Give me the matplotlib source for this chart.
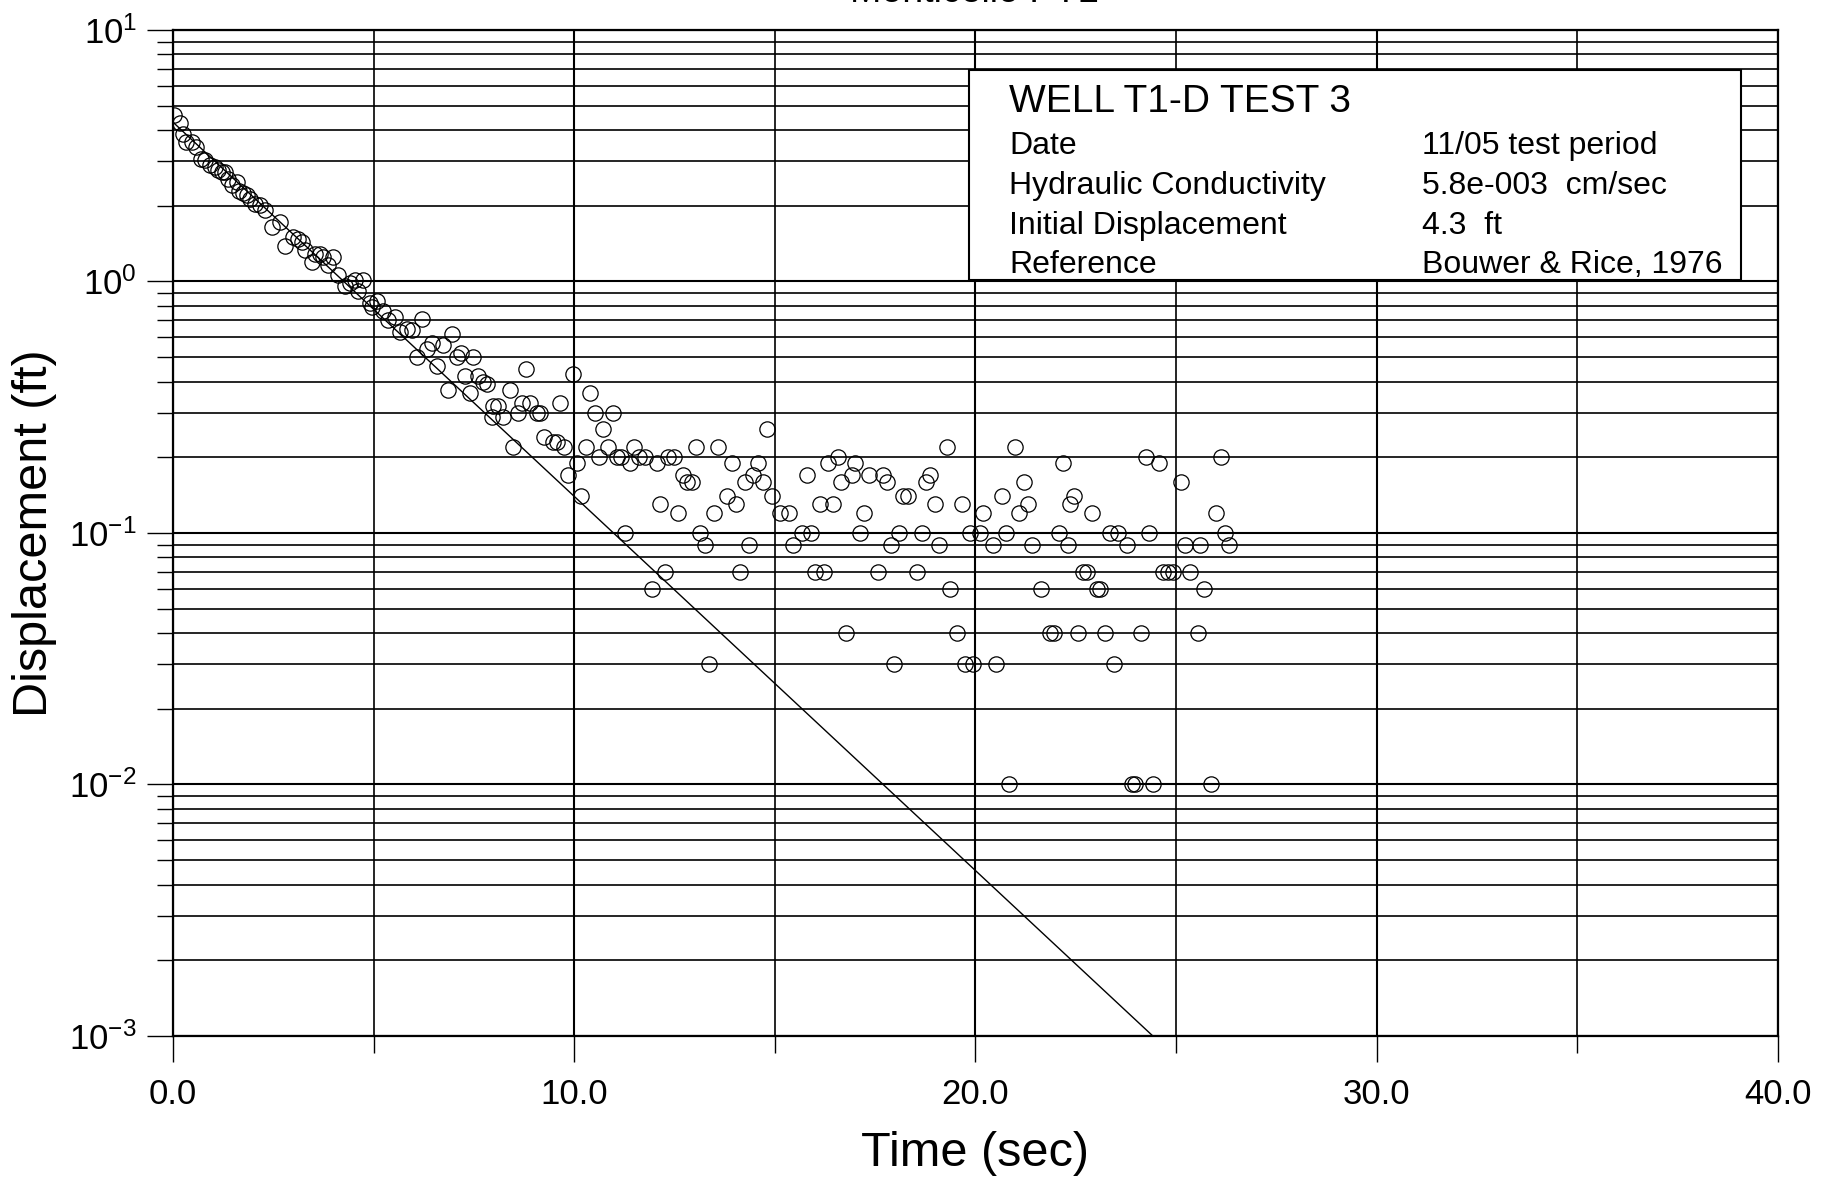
import matplotlib
matplotlib.use('Agg')
import matplotlib.pyplot as plt
from matplotlib.ticker import FixedLocator, NullFormatter, LogLocator
from matplotlib.patches import Rectangle

plt.rcParams['font.family'] = ['Liberation Sans', 'DejaVu Sans']

time_s = [0.03, 0.17, 0.26, 0.32, 0.47, 0.57, 0.71, 0.80, 0.92, 1.05,
          1.13, 1.21, 1.30, 1.38, 1.46, 1.59, 1.65, 1.75, 1.84, 1.92,
          2.04, 2.17, 2.29, 2.46, 2.67, 2.79, 3.00, 3.12, 3.21, 3.29,
          3.46, 3.54, 3.66, 3.75, 3.87, 4.00, 4.12, 4.29, 4.41, 4.54,
          4.62, 4.74, 4.91, 4.95, 5.08, 5.24, 5.36, 5.53, 5.66, 5.82,
          5.95, 6.07, 6.20, 6.32, 6.45, 6.57, 6.74, 6.86, 6.95, 7.07,
          7.19, 7.28, 7.40, 7.48, 7.61, 7.73, 7.82, 7.94, 7.98, 8.11,
          8.23, 8.40, 8.48, 8.61, 8.69, 8.81, 8.90, 9.06, 9.15, 9.25,
          9.48, 9.56, 9.64, 9.75, 9.85, 9.98, 10.08, 10.18, 10.29, 10.39,
          10.52, 10.62, 10.72, 10.85, 10.96, 11.06, 11.16, 11.26, 11.39, 11.50,
          11.62, 11.76, 11.93, 12.05, 12.14, 12.26, 12.34, 12.49, 12.59, 12.70,
          12.80, 12.93, 13.03, 13.13, 13.26, 13.37, 13.48, 13.59, 13.81, 13.92,
          14.03, 14.13, 14.26, 14.36, 14.46, 14.59, 14.70, 14.80, 14.92, 15.13,
          15.36, 15.46, 15.67, 15.79, 15.90, 16.00, 16.12, 16.22, 16.33, 16.46,
          16.58, 16.66, 16.77, 16.91, 17.00, 17.12, 17.23, 17.35, 17.56, 17.69,
          17.79, 17.89, 17.98, 18.10, 18.20, 18.33, 18.53, 18.66, 18.77, 18.87,
          18.99, 19.10, 19.28, 19.36, 19.53, 19.66, 19.74, 19.86, 19.95, 20.11,
          20.19, 20.43, 20.51, 20.65, 20.76, 20.84, 20.98, 21.09, 21.21, 21.32,
          21.42, 21.64, 21.86, 21.96, 22.09, 22.19, 22.31, 22.36, 22.45, 22.56,
          22.67, 22.77, 22.90, 23.02, 23.10, 23.23, 23.34, 23.44, 23.56, 23.78,
          23.89, 23.97, 24.12, 24.25, 24.33, 24.43, 24.58, 24.68, 24.81, 24.91,
          25.12, 25.22, 25.35, 25.55, 25.59, 25.70, 25.86, 25.99, 26.12, 26.22,
          26.33]
displacement_ft = [4.59, 4.25, 3.85, 3.59, 3.59, 3.43, 3.08, 3.03, 2.90, 2.85,
                   2.77, 2.73, 2.73, 2.56, 2.41, 2.49, 2.30, 2.24, 2.20, 2.13,
                   2.04, 2.01, 1.92, 1.65, 1.72, 1.39, 1.50, 1.48, 1.43, 1.34,
                   1.19, 1.29, 1.29, 1.25, 1.16, 1.25, 1.06, 0.96, 0.99, 1.01,
                   0.92, 1.01, 0.82, 0.79, 0.84, 0.76, 0.70, 0.72, 0.63, 0.65,
                   0.64, 0.50, 0.71, 0.54, 0.57, 0.46, 0.56, 0.37, 0.62, 0.50,
                   0.52, 0.42, 0.36, 0.50, 0.42, 0.40, 0.39, 0.29, 0.32, 0.32,
                   0.29, 0.37, 0.22, 0.30, 0.33, 0.45, 0.33, 0.30, 0.30, 0.24,
                   0.23, 0.23, 0.33, 0.22, 0.17, 0.43, 0.19, 0.14, 0.22, 0.36,
                   0.30, 0.20, 0.26, 0.22, 0.30, 0.20, 0.20, 0.10, 0.19, 0.22,
                   0.20, 0.20, 0.06, 0.19, 0.13, 0.07, 0.20, 0.20, 0.12, 0.17,
                   0.16, 0.16, 0.22, 0.10, 0.09, 0.03, 0.12, 0.22, 0.14, 0.19,
                   0.13, 0.07, 0.16, 0.09, 0.17, 0.19, 0.16, 0.26, 0.14, 0.12,
                   0.12, 0.09, 0.10, 0.17, 0.10, 0.07, 0.13, 0.07, 0.19, 0.13,
                   0.20, 0.16, 0.04, 0.17, 0.19, 0.10, 0.12, 0.17, 0.07, 0.17,
                   0.16, 0.09, 0.03, 0.10, 0.14, 0.14, 0.07, 0.10, 0.16, 0.17,
                   0.13, 0.09, 0.22, 0.06, 0.04, 0.13, 0.03, 0.10, 0.03, 0.10,
                   0.12, 0.09, 0.03, 0.14, 0.10, 0.01, 0.22, 0.12, 0.16, 0.13,
                   0.09, 0.06, 0.04, 0.04, 0.10, 0.19, 0.09, 0.13, 0.14, 0.04,
                   0.07, 0.07, 0.12, 0.06, 0.06, 0.04, 0.10, 0.03, 0.10, 0.09,
                   0.01, 0.01, 0.04, 0.20, 0.10, 0.01, 0.19, 0.07, 0.07, 0.07,
                   0.16, 0.09, 0.07, 0.04, 0.09, 0.06, 0.01, 0.12, 0.20, 0.10,
                   0.09]

# Bouwer & Rice straight-line fit (end points)
fit_time = [0.0, 24.42]
fit_disp = [4.3, 0.001]

x_ticks = [0, 10, 20, 30, 40]
x_minor = [5, 15, 25, 35]
y_ticks = [1e-3, 1e-2, 1e-1, 1e0, 1e1]
y_labels = [r'$\mathregular{10^{-3}}$', r'$\mathregular{10^{-2}}$',
            r'$\mathregular{10^{-1}}$', r'$\mathregular{10^{0}}$',
            r'$\mathregular{10^{1}}$']

info_keys = ['Date', 'Hydraulic Conductivity', 'Initial Displacement', 'Reference']
info_vals = ['11/05 test period', '5.8e-003  cm/sec', '4.3  ft', 'Bouwer & Rice, 1976']

fig = plt.figure(figsize=(18.32, 11.85), dpi=100)
ax = fig.add_axes([0.09443, 0.12574, 0.87609, 0.84895])

ax.set_yscale('log')
ax.set_xlim(0, 40)
ax.set_ylim(1e-3, 10)

ax.plot(fit_time, fit_disp, color='black', lw=1.0, zorder=4)
ax.plot(time_s, displacement_ft, linestyle='none', marker='o', ms=11,
        mfc='none', mec='black', mew=0.9, zorder=5)

# axes / grid
ax.set_xticks(x_ticks)
ax.set_xticklabels(['%.1f' % v for v in x_ticks])
ax.xaxis.set_minor_locator(FixedLocator(x_minor))
ax.yaxis.set_major_locator(FixedLocator(y_ticks))
ax.set_yticklabels(y_labels)
ax.yaxis.set_minor_locator(LogLocator(base=10, subs=range(2, 10)))
ax.yaxis.set_minor_formatter(NullFormatter())

ax.grid(which='major', color='black', lw=1.5)
ax.grid(which='minor', color='black', lw=1.2)
ax.set_axisbelow(True)

ax.tick_params(axis='x', which='major', length=19, width=1.0, pad=11, labelsize=25)
ax.tick_params(axis='x', which='minor', length=12, width=1.0)
ax.tick_params(axis='y', which='major', length=19, width=1.0, pad=7, labelsize=25)
ax.tick_params(axis='y', which='minor', length=11.5, width=1.0)
for s in ax.spines.values():
    s.set_linewidth(1.6)

ax.set_xlabel('Time (sec)', fontsize=35)
ax.xaxis.set_label_coords(0.5, -0.117)
ax.xaxis.label.set_va('center')
ax.set_ylabel('Displacement (ft)', fontsize=35)
ax.yaxis.set_label_coords(-0.086, 0.5)
ax.yaxis.label.set_va('center')

# info box
ax.add_patch(Rectangle((0.496, 0.7515), 0.481, 0.2085, transform=ax.transAxes,
                       facecolor='white', edgecolor='black', lw=1.5, zorder=3))
ax.text(0.521, 0.918, 'WELL T1-D TEST 3', transform=ax.transAxes,
        fontsize=28, va='baseline', ha='left', zorder=6)
rows_y = [0.8767, 0.8373, 0.7977, 0.7584]
for k, v, yy in zip(info_keys, info_vals, rows_y):
    ax.text(0.521, yy, k, transform=ax.transAxes, fontsize=23,
            va='baseline', ha='left', zorder=6)
    ax.text(0.778, yy, v, transform=ax.transAxes, fontsize=23,
            va='baseline', ha='left', zorder=6)

# title sits mostly off the top of the page in the scan
fig.text(0.532, 1 - 2 / 1185, 'Monticello PTL', fontsize=27,
         ha='center', va='baseline')

fig.savefig('out.png', dpi=100)
